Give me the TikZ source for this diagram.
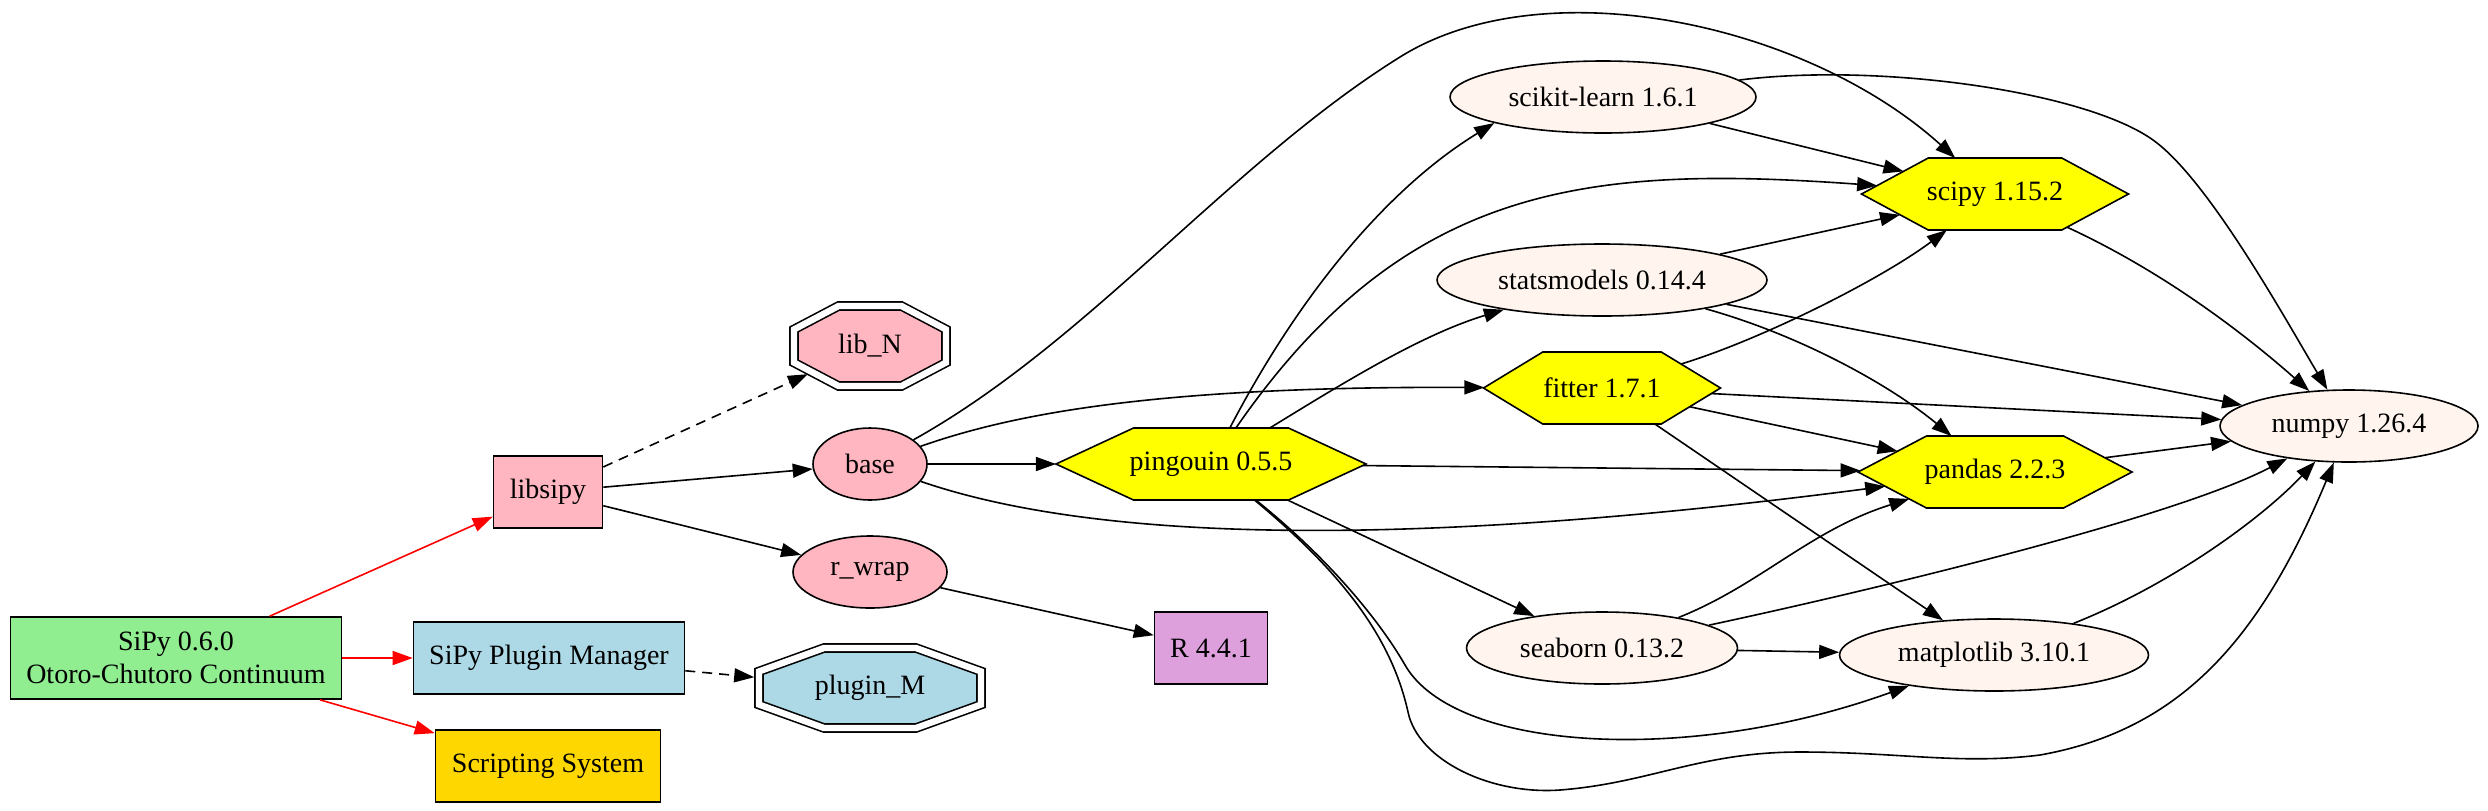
\documentclass[tikz,border=0pt]{standalone}
\usepackage{fontspec}
\setmainfont{Liberation Serif}
\usepackage{xcolor}
\usepackage{tikz}
\usetikzlibrary{positioning}
\usetikzlibrary{arrows.meta,shapes}
\definecolor{lightgreen}{HTML}{90EE90}
\definecolor{lightpink}{HTML}{FFB6C1}
\definecolor{lightblue}{HTML}{ADD8E6}
\definecolor{gold}{HTML}{FFD700}
\definecolor{plum}{HTML}{DDA0DD}
\definecolor{seashell}{HTML}{FFF5EE}
\definecolor{libyellow}{HTML}{FFFF00}
\definecolor{edgered}{HTML}{FF0000}
\tikzstyle{boxvertex}=[rectangle,draw,line width=0.8pt,inner sep=0pt,minimum height=36pt,align=center,font=\fontsize{14}{16.5}\selectfont]
\tikzstyle{modvertex}=[ellipse,draw,line width=0.8pt,inner sep=0pt,minimum height=36pt,font=\fontsize{14}{16.5}\selectfont]
\tikzstyle{hexvertex}=[regular polygon,regular polygon sides=6,draw,fill=libyellow,line width=0.8pt,inner sep=0pt,outer sep=0pt,minimum size=41.57pt,transform shape]
\tikzstyle{octvertex}=[regular polygon,regular polygon sides=8,draw,double,double distance=3.2pt,line width=0.8pt,inner sep=0pt,outer sep=0pt,minimum size=43.3pt,transform shape]
\tikzstyle{vlabel}=[inner sep=0pt,font=\fontsize{14}{16.5}\selectfont]
\tikzstyle{edge} = [draw,line width=0.8pt,->]
\tikzstyle{coreedge} = [edge,edgered]
\tikzstyle{optedge} = [edge,dash pattern=on 5pt off 3.5pt,shorten >=2.4pt]
\tikzset{>={Triangle[length=10pt,width=7pt]}}

\begin{document}
\begin{tikzpicture}[x=0.5pt,y=-0.5pt]

  \useasboundingbox (0,0) rectangle (2488,810);

  \node[boxvertex,fill=lightgreen,minimum width=165.5pt,minimum height=41pt] (sipy) at (176,658) {SiPy 0.6.0\\Otoro-Chutoro Continuum};

  \foreach \x/\y/\name/\w/\col/\label in {548/492/libsipy/54.5/lightpink/libsipy, 549/658/pluginmgr/135.5/lightblue/SiPy Plugin Manager,
          548/766/scripting/112.5/gold/Scripting System, 1211/648/R/56.5/plum/R 4.4.1}
          \node[boxvertex,fill=\col,minimum width=\w pt] (\name) at (\x,\y) {\label};

  % octagons and hexagons: regular polygons stretched sideways
  \foreach \x/\y/\name/\s/\col/\label in {870/346/libN/1.9/lightpink/lib\_N, 870/688/pluginM/2.775/lightblue/plugin\_M}{
     \begin{scope}[shift={(\x,\y)},xscale=\s]
       \node[octvertex,fill=\col] (\name) at (0,0) {};
     \end{scope}
     \node[vlabel] (\name-lbl) at (\name) {\label};
  }

  \foreach \x/\y/\name/\s/\label in {1211/464/pingouin/3.729/pingouin 0.5.5, 1602/388/fitter/2.851/fitter 1.7.1,
          1995/194/scipy/3.212/scipy 1.15.2, 1995/472/pandas/3.296/pandas 2.2.3}{
     \begin{scope}[shift={(\x,\y)},xscale=\s]
       \node[hexvertex] (\name) at (0,0) {};
     \end{scope}
     \node[vlabel] (\name-lbl) at (\name) {\label};
  }

  \foreach \x/\y/\name/\w/\col/\label in {870/464/base/57/lightpink/base, 870/572/rwrap/77/lightpink/r\_wrap,
          1603/97/sklearn/153/seashell/scikit-learn 1.6.1, 1602/280/statsmodels/165/seashell/statsmodels 0.14.4,
          1602/648/seaborn/135.5/seashell/seaborn 0.13.2, 1994/655/matplotlib/154.5/seashell/matplotlib 3.10.1,
          2349/426/numpy/129/seashell/numpy 1.26.4}
          \node[modvertex,fill=\col,minimum width=\w pt] (\name) at (\x,\y) {\label};

  % straight connectors
  \foreach \source/\dest in {sipy/libsipy, sipy/pluginmgr, sipy/scripting}
         \path[coreedge] (\source) -- (\dest);

  \foreach \source/\dest in {libsipy/libN, pluginmgr/pluginM}
         \path[optedge] (\source) -- (\dest);

  \foreach \source/\dest in {libsipy/base, libsipy/rwrap, rwrap/R, base/pingouin, pingouin/pandas, pingouin/seaborn,
         sklearn/scipy, statsmodels/scipy, statsmodels/numpy, fitter/numpy, fitter/pandas, fitter/matplotlib,
         pandas/numpy, seaborn/matplotlib}
         \path[edge] (\source) -- (\dest);

  % curved connectors
  \path[edge] (base) .. controls (1010,415) and (1150,386) .. (fitter);
  \path[edge] (base) .. controls (1089,342) and (1230,163) .. (1400,57) .. controls (1544,-33) and (1806,23) .. (scipy);
  \path[edge] (base) .. controls (1150,560) and (1550,530) .. (pandas);
  \path[edge] (pingouin) .. controls (1304,286) and (1393,185) .. (sklearn.south west);
  \path[edge] (pingouin) .. controls (1406,182) and (1590,165) .. (scipy);
  \path[edge] (pingouin) .. controls (1340,385) and (1420,335) .. (statsmodels);
  \path[edge] (pingouin) .. controls (1338,566) and (1385,630) .. (1405,665) .. controls (1455,752) and (1690,765) .. (matplotlib);
  \path[edge] (pingouin) .. controls (1345,575) and (1392,640) .. (1408,712) .. controls (1418,760) and (1490,795) .. (1560,790)
         .. controls (1650,783) and (1700,752) .. (1800,752) .. controls (1900,752) and (1960,765) .. (2040,755)
         .. controls (2180,730) and (2260,640) .. (numpy);
  \path[edge] (sklearn) .. controls (1884,62) and (2094,93) .. (2157,143) .. controls (2212,186) and (2287,322) .. (numpy);
  \path[edge] (statsmodels) .. controls (1800,335) and (1890,385) .. (pandas);
  \path[edge] (fitter) .. controls (1760,340) and (1880,280) .. (scipy);
  \path[edge] (scipy) .. controls (2160,270) and (2240,330) .. (numpy);
  \path[edge] (seaborn) .. controls (1760,585) and (1810,530) .. (pandas);
  \path[edge] (seaborn) .. controls (1850,595) and (2170,520) .. (numpy);
  \path[edge] (matplotlib) .. controls (2170,585) and (2260,520) .. (numpy);

\end{tikzpicture}
\end{document}
